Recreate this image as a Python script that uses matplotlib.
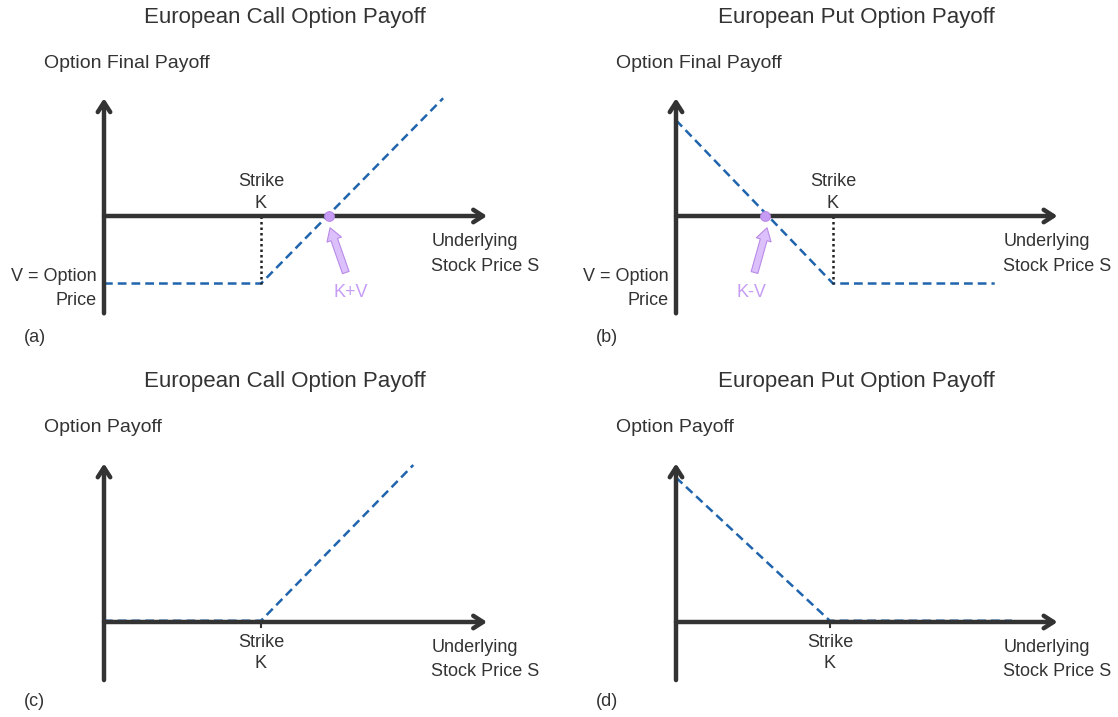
import numpy as np
import matplotlib.pyplot as plt

plt.rcParams['font.family'] = ['Liberation Sans', 'DejaVu Sans']

# values (strike K = 10 units)
K = 10
V = 4.3
call_S = [0, 10, 21.6]
call_final = [-4.3, -4.3, 7.5]
put_S = [0, 10, 20.3]
put_final = [6.1, -4.3, -4.3]
call2_S = [0, 10, 19.7]
call2_pay = [0.08, 0.08, 10.0]
put2_S = [0, 9.8, 21.4]
put2_pay = [9.2, 0.08, 0.08]

titles = ["European Call Option Payoff", "European Put Option Payoff",
          "European Call Option Payoff", "European Put Option Payoff"]
ylabels = ["Option Final Payoff", "Option Final Payoff", "Option Payoff", "Option Payoff"]
tags = ["(a)", "(b)", "(c)", "(d)"]

W, H = 1118, 717
s = 15.7  # pixels per unit
fig = plt.figure(figsize=(W / 100, H / 100), dpi=100)

AX = '#333333'
BLUE = '#1f64ad'
PURP = '#c79cf5'
FS = 13


def panel(x0, y0, x1, y1, ox, oy, xend, ytop, ybot):
    # axes in pixel box, data origin at pixel (ox, oy)
    ax = fig.add_axes([x0 / W, 1 - y1 / H, (x1 - x0) / W, (y1 - y0) / H])
    ax.set_xlim(-(ox - x0) / s, (x1 - ox) / s)
    ax.set_ylim(-(y1 - oy) / s, (oy - y0) / s)
    ax.axis('off')
    ap = dict(arrowstyle='->,head_length=0.7,head_width=0.45', lw=3.2, color=AX,
              shrinkA=0, shrinkB=0)
    ax.annotate('', xy=(0, ytop), xytext=(0, ybot), arrowprops=ap)
    ax.annotate('', xy=(xend, 0), xytext=(0, 0), arrowprops=ap)
    return ax


def txt(ax, x, y, t, **kw):
    kw.setdefault('fontsize', FS)
    kw.setdefault('color', AX)
    ax.text(x, y, t, **kw)


axes = [
    panel(0, 0, 559, 358, 104, 216, 24.4, 7.5, -6.2),
    panel(559, 0, 1118, 358, 676, 216, 24.3, 7.5, -6.2),
    panel(0, 358, 559, 717, 104, 622, 24.4, 10.1, -3.7),
    panel(559, 358, 1118, 717, 676, 622, 24.3, 10.1, -3.7),
]

dash = dict(color=BLUE, lw=1.8, ls=(0, (3.5, 2)))
axes[0].plot(call_S, call_final, **dash)
axes[1].plot(put_S, put_final, **dash)
axes[2].plot(call2_S, call2_pay, **dash)
axes[3].plot(put2_S, put2_pay, **dash)

# pixel offsets from top / bottom of each panel box
title_off = [18, 18, 24, 24]
ylab_off = [63, 63, 69, 69]
tag_off = [21, 21, 15, 15]

for i, ax in enumerate(axes):
    top = ax.get_ylim()[1]
    bot = ax.get_ylim()[0]
    ax.text(11.5, top - title_off[i] / s, titles[i], fontsize=16, color=AX,
            ha='center', va='center')
    txt(ax, -3.8, top - ylab_off[i] / s, ylabels[i], va='center', ha='left', fontsize=14)
    txt(ax, -5.1, bot + tag_off[i] / s, tags[i], va='center', ha='left')

# panels (a) and (b): strike, V and break-even markers
for ax, be, lbl, dx in [(axes[0], K + V, "K+V", 1.1), (axes[1], K - V, "K-V", -0.7)]:
    ax.plot([K, K], [0, -V], color='#222222', lw=1.8, ls=(0, (1, 1.2)))
    txt(ax, K, 1.5, "Strike\nK", ha='center', va='center', linespacing=1.45)
    txt(ax, -0.5, -4.6, "V = Option\nPrice", ha='right', va='center', linespacing=1.55)
    txt(ax, 20.85, -2.42, "Underlying\nStock Price S", ha='left', va='center', linespacing=1.55)
    ax.plot([be], [0], 'o', ms=7, color=PURP, mec='#b98ae8', mew=0.8, zorder=5)
    ax.annotate('', xy=(be + 0.1, -0.75), xytext=(be + dx, -3.6),
                arrowprops=dict(arrowstyle='simple,head_width=1.1,head_length=0.9,tail_width=0.5',
                                fc='#dcc0fb', ec='#b98ae8', lw=0.8, shrinkA=0, shrinkB=0))
    ax.text(be + dx * 1.3, -4.85, lbl, fontsize=FS, color=PURP, ha='center', va='center')

# panels (c) and (d): strike below the axis
for ax, k in [(axes[2], 10), (axes[3], 9.8)]:
    ax.plot([k, k], [0, -0.35], color=AX, lw=1.5)
    txt(ax, k, -2.0, "Strike\nK", ha='center', va='center', linespacing=1.3)
    txt(ax, 20.85, -2.39, "Underlying\nStock Price S", ha='left', va='center', linespacing=1.55)

fig.savefig('out.png', dpi=100)
